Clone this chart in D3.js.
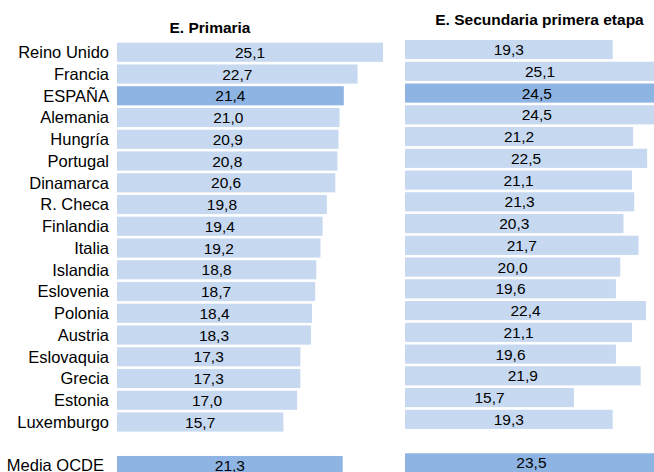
<!DOCTYPE html>
<html>
<head>
<meta charset="utf-8">
<script src="https://cdn.jsdelivr.net/npm/d3@7"></script>
<style>
  body { margin: 0; background: #fff; }
  svg { display: block; font-family: "Liberation Sans", Arial, sans-serif; }
</style>
</head>
<body>
<div id="chart"></div>
<script>
// datos
const countries = ["Reino Unido", "Francia", "ESPAÑA", "Alemania", "Hungría", "Portugal",
    "Dinamarca", "R. Checa", "Finlandia", "Italia", "Islandia", "Eslovenia", "Polonia",
    "Austria", "Eslovaquia", "Grecia", "Estonia", "Luxemburgo"];
const primaria = [25.1, 22.7, 21.4, 21.0, 20.9, 20.8, 20.6, 19.8, 19.4, 19.2, 18.8, 18.7,
    18.4, 18.3, 17.3, 17.3, 17.0, 15.7];
const secundaria = [19.3, 25.1, 24.5, 24.5, 21.2, 22.5, 21.1, 21.3, 20.3, 21.7, 20.0, 19.6,
    22.4, 21.1, 19.6, 21.9, 15.7, 19.3];
const mediaLabel = "Media OCDE";
const mediaPrimaria = 21.3;
const mediaSecundaria = 23.5;
const titles = ["E. Primaria", "E. Secundaria primera etapa"];

const W = 654, H = 472;
const light = "#c6d9f1", dark = "#8eb4e3";
const fmt = v => d3.format(".1f")(v).replace(".", ",");

const svg = d3.select("#chart").append("svg")
    .attr("width", W)
    .attr("height", H);

// filas: países, hueco, media
const rows = countries.concat(["__gap", mediaLabel]);

function panel(values, media, x0, xRef, refVal, yTop, title, titleX, titleY) {
    const data = countries.map((c, i) => ({ name: c, v: values[i] }));
    data.push({ name: mediaLabel, v: media });

    const x = d3.scaleLinear().domain([0, refVal]).range([x0, xRef]);
    const y = d3.scaleBand()
        .domain(rows)
        .range([yTop, yTop + 20 * 21.75])
        .paddingInner(0.12)
        .paddingOuter(0.06);

    const g = svg.append("g");

    g.selectAll("rect")
        .data(data)
        .enter()
        .append("rect")
        .attr("x", x(0))
        .attr("y", d => y(d.name))
        .attr("width", d => x(d.v) - x(0))
        .attr("height", y.bandwidth())
        .attr("fill", d => (d.name === "ESPAÑA" || d.name === mediaLabel) ? dark : light);

    g.selectAll("text.val")
        .data(data)
        .enter()
        .append("text")
        .attr("class", "val")
        .attr("x", d => (x(0) + x(d.v)) / 2)
        .attr("y", d => y(d.name) + y.bandwidth() / 2 + 5.5)
        .attr("text-anchor", "middle")
        .style("font-size", "15.5px")
        .style("fill", "#000")
        .text(d => fmt(d.v));

    svg.append("text")
        .attr("x", titleX)
        .attr("y", titleY)
        .attr("text-anchor", "middle")
        .style("font-size", "15.5px")
        .style("font-weight", "bold")
        .text(title);

    return y;
}

const yL = panel(primaria, mediaPrimaria, 117, 383, 25.1, 41.4, titles[0], 210, 33);
panel(secundaria, mediaSecundaria, 405, 612.7, 19.3, 38.7, titles[1], 539.5, 24.5);

// etiquetas de países
svg.selectAll("text.lab")
    .data(countries)
    .enter()
    .append("text")
    .attr("class", "lab")
    .attr("x", 109)
    .attr("y", d => yL(d) + yL.bandwidth() / 2 + 5.8)
    .attr("text-anchor", "end")
    .style("font-size", "16.5px")
    .text(d => d);

svg.append("text")
    .attr("x", 104)
    .attr("y", yL(mediaLabel) + yL.bandwidth() / 2 + 5.8)
    .attr("text-anchor", "end")
    .style("font-size", "16.5px")
    .text(mediaLabel);
</script>
</body>
</html>
